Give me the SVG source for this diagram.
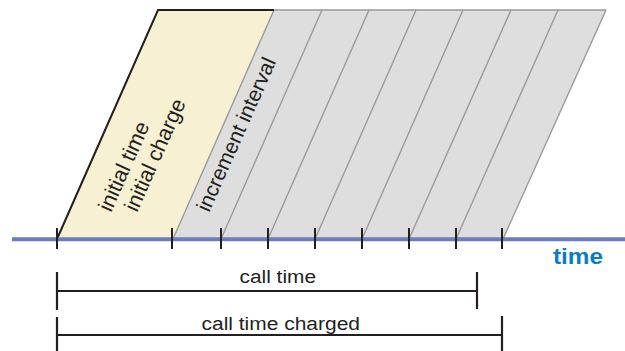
<svg xmlns="http://www.w3.org/2000/svg" width="625" height="351" viewBox="0 0 625 351">
  <style>
    .lbl { font-family: "Liberation Sans", Arial, sans-serif; fill: #231f20; }
    .stripe { stroke: #9a9a9a; stroke-width: 1.4; fill: none; }
    .tick { stroke: #231f20; stroke-width: 2; }
    .span { stroke: #231f20; stroke-width: 2.2; fill: none; }
  </style>

  <!-- increment intervals (grey band) -->
  <g id="increments">
    <polygon points="173,239 274,10 606,10 503,239" fill="#dedede"/>
    <line class="stripe" x1="274" y1="10" x2="606" y2="10" stroke-width="2"/>
    <line class="stripe" x1="606" y1="10" x2="503" y2="239"/>
    <line class="stripe" x1="221" y1="239" x2="322" y2="10"/>
    <line class="stripe" x1="268" y1="239" x2="369" y2="10"/>
    <line class="stripe" x1="315" y1="239" x2="416" y2="10"/>
    <line class="stripe" x1="362" y1="239" x2="463" y2="10"/>
    <line class="stripe" x1="409" y1="239" x2="511" y2="10"/>
    <line class="stripe" x1="456" y1="239" x2="558" y2="10"/>
    <text class="lbl" font-size="21" transform="translate(209,213) rotate(-66)">increment interval</text>
  </g>

  <!-- initial interval (yellow band) -->
  <g id="initial">
    <polygon points="57,239 158,10 274,10 173,239" fill="#f8f0d2"/>
    <line class="stripe" x1="173" y1="239" x2="274" y2="10"/>
    <polyline points="57,239 158,10 274,10" fill="none" stroke="#231f20" stroke-width="2"/>
    <text class="lbl" font-size="21.5" transform="translate(111,213) rotate(-66)">initial time</text>
    <text class="lbl" font-size="21.5" transform="translate(137,213) rotate(-66)">initial charge</text>
  </g>

  <!-- time axis with ticks -->
  <g id="axis">
    <line x1="12" y1="239.3" x2="625" y2="239.3" stroke="#6b7dbf" stroke-width="4"/>
    <g class="tick">
      <line x1="57" y1="228" x2="57" y2="249"/>
      <line x1="172" y1="228" x2="172" y2="249"/>
      <line x1="221" y1="228" x2="221" y2="249"/>
      <line x1="268" y1="228" x2="268" y2="249"/>
      <line x1="315" y1="228" x2="315" y2="249"/>
      <line x1="362" y1="228" x2="362" y2="249"/>
      <line x1="409" y1="228" x2="409" y2="249"/>
      <line x1="456" y1="228" x2="456" y2="249"/>
      <line x1="502" y1="228" x2="502" y2="249"/>
    </g>
    <text x="553" y="263.5" font-family="Liberation Sans, Arial, sans-serif" font-weight="bold" font-size="22.5" fill="#0b7dc4" textLength="50" lengthAdjust="spacingAndGlyphs">time</text>
  </g>

  <!-- measured spans -->
  <g id="call-time">
    <path class="span" d="M57,272 V310 M57,291 H477 M477,272 V309"/>
    <text class="lbl" x="239.5" y="283.3" font-size="17.6" textLength="76.5" lengthAdjust="spacingAndGlyphs">call time</text>
  </g>
  <g id="call-time-charged">
    <path class="span" d="M57,317 V351 M57,335 H502 M502,316 V351"/>
    <text class="lbl" x="201.5" y="330" font-size="17.6" textLength="158.5" lengthAdjust="spacingAndGlyphs">call time charged</text>
  </g>
</svg>
